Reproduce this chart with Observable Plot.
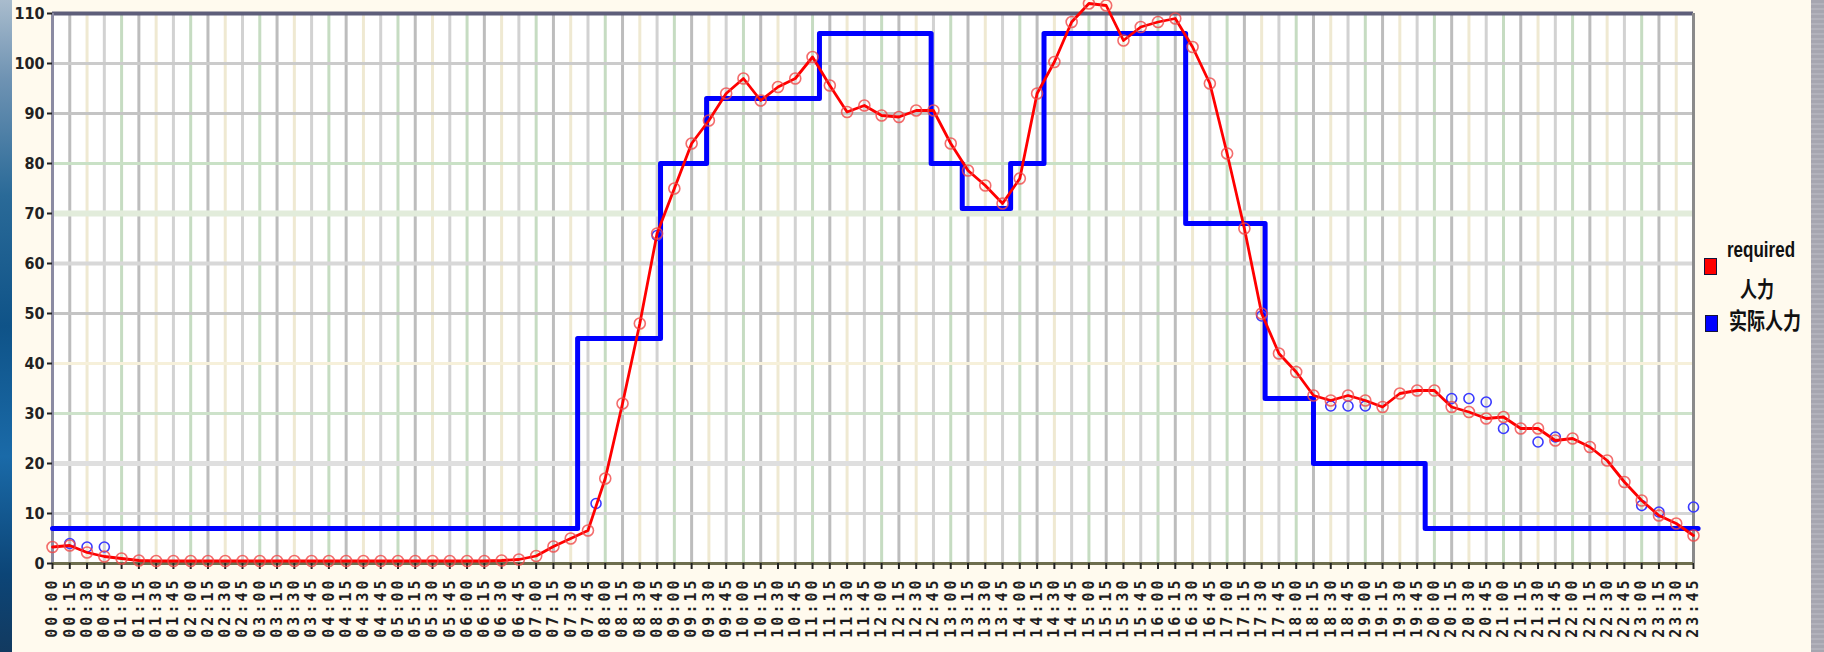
<!DOCTYPE html>
<html>
<head>
<meta charset="utf-8">
<script src="https://cdn.jsdelivr.net/npm/d3@7"></script>
<script src="https://cdn.jsdelivr.net/npm/@observablehq/plot@0.6"></script>
<style>
html, body { margin: 0; padding: 0; background: #fffaee; width: 1824px; height: 652px; overflow: hidden; }
#wrap { position: relative; width: 1824px; height: 652px; }
#leftstrip { position: absolute; left: 0; top: 0; width: 12px; height: 652px;
  background: linear-gradient(to bottom, #a9bccd 0%, #6f93b3 12%, #2a6a98 30%, #0f5388 50%, #1a6aa8 70%, #0c4577 88%, #123a60 100%); }
#rightstrip { position: absolute; left: 1811px; top: 0; width: 13px; height: 652px;
  background: repeating-linear-gradient(to bottom, #a6a6b0 0px, #a6a6b0 3px, #b2b2bb 3px, #b2b2bb 5px); }
#chart { position: absolute; left: 0; top: 0; }
.sw { position: absolute; width: 11px; height: 15px; border: 1.5px solid #14143a; }
.lab { position: absolute; color: #111; white-space: nowrap; transform: scale(1, 1.25); transform-origin: left top; }
svg g[aria-label="x-axis tick label"] { font-family: "DejaVu Sans Mono", monospace; font-weight: bold; font-size: 15px; letter-spacing: 3px; fill: #1e1e1e; }
svg g[aria-label="y-axis tick label"] { font-family: "DejaVu Sans Condensed", "DejaVu Sans", sans-serif; font-weight: bold; font-size: 16px; fill: #222; }
</style>
</head>
<body>
<div id="wrap">
  <div id="leftstrip"></div>
  <div id="chart"></div>
  <div id="rightstrip"></div>
  <div class="sw" style="left:1704px; top:258px; background:#ff0000;"></div>
  <div class="lab" style="left:1727px; top:238px; font: bold 17px 'Liberation Sans', sans-serif;">required</div>
  <div class="lab" style="left:1740px; top:272px; font: bold 17px 'Noto Sans CJK SC', sans-serif;">人力</div>
  <div class="sw" style="left:1705px; top:315px; background:#0000ff;"></div>
  <div class="lab" style="left:1729px; top:303px; font: bold 18px 'Noto Sans CJK SC', sans-serif;">实际人力</div>
</div>
<script>
// ---------- data ----------
const timeSlots = [
  "00:00","00:15","00:30","00:45","01:00","01:15","01:30","01:45",
  "02:00","02:15","02:30","02:45","03:00","03:15","03:30","03:45",
  "04:00","04:15","04:30","04:45","05:00","05:15","05:30","05:45",
  "06:00","06:15","06:30","06:45","07:00","07:15","07:30","07:45",
  "08:00","08:15","08:30","08:45","09:00","09:15","09:30","09:45",
  "10:00","10:15","10:30","10:45","11:00","11:15","11:30","11:45",
  "12:00","12:15","12:30","12:45","13:00","13:15","13:30","13:45",
  "14:00","14:15","14:30","14:45","15:00","15:15","15:30","15:45",
  "16:00","16:15","16:30","16:45","17:00","17:15","17:30","17:45",
  "18:00","18:15","18:30","18:45","19:00","19:15","19:30","19:45",
  "20:00","20:15","20:30","20:45","21:00","21:15","21:30","21:45",
  "22:00","22:15","22:30","22:45","23:00","23:15","23:30","23:45"
];

// "required" series, one value per 15-minute slot
const required = [
  3.3, 3.6, 2.2, 1.4, 1.0, 0.6, 0.5, 0.5,
  0.5, 0.5, 0.5, 0.5, 0.5, 0.5, 0.5, 0.5,
  0.5, 0.5, 0.5, 0.5, 0.5, 0.5, 0.5, 0.5,
  0.5, 0.5, 0.6, 0.8, 1.5, 3.4, 5.0, 6.6,
  17, 32, 48, 66, 75, 84, 88.6, 94,
  97, 92.6, 95.3, 97, 101.3, 95.6, 90.3, 91.6,
  89.6, 89.3, 90.6, 90.6, 84, 78.6, 75.6, 72,
  77, 94, 100.3, 108.3, 112, 111.6, 104.6, 107.3,
  108.3, 109, 103.3, 96, 82, 67, 50, 42,
  38.3, 33.6, 32.6, 33.6, 32.6, 31.3, 34, 34.6,
  34.6, 31.3, 30.3, 29, 29.3, 27, 27, 24.6,
  25, 23.3, 20.6, 16.3, 12.6, 9.6, 8, 5.6
];

// "实际人力" staffing schedule: change times and levels
const actualStepTimes  = ["00:00","07:36","08:48","09:28","11:06","12:43","13:10","13:52","14:21","16:24","17:33","18:15","19:52","23:49"];
const actualStepValues = [7, 45, 80, 93, 106, 80, 71, 80, 106, 68, 33, 20, 7, 7];

// "实际人力" sample markers visible on the chart
const actualMarkerTimes  = ["00:15","00:30","00:45","07:52","08:45","17:30","18:30","18:45","19:00","20:15","20:30","20:45","21:00","21:30","21:45","23:00","23:15","23:45"];
const actualMarkerValues = [4, 3.3, 3.3, 12, 65.6, 49.5, 31.5, 31.5, 31.5, 33, 33, 32.3, 27, 24.3, 25.3, 11.6, 10.3, 11.3];

const yTicks = [0, 10, 20, 30, 40, 50, 60, 70, 80, 90, 100, 110];

// ---------- styles ----------
const vGridColors = ["#c6dcc2", "#bdbdbd", "#efe9d2", "#d2d2d2"];
const hGridColors = ["#d6d6d6", "#dfdfdf", "#cde2ca", "#f6f0da", "#c4c4c4", "#d8d8d8", "#e2ecdb", "#c9e1c6", "#c4c4c4", "#cbcbcb"];
const hGridWidths = [3, 5, 3, 3, 3, 4, 6, 3, 3, 3];

// ---------- build ----------
const toMin = s => Number(s.slice(0, 2)) * 60 + Number(s.slice(3, 5));
const tickMins = timeSlots.map(toMin);
const labelOf = new Map(timeSlots.map(t => [toMin(t), t]));
const reqData = timeSlots.map((t, i) => ({m: toMin(t), v: required[i]}));
const stepData = actualStepTimes.map((t, i) => ({m: toMin(t), v: actualStepValues[i]}));
const markData = actualMarkerTimes.map((t, i) => ({m: toMin(t), v: actualMarkerValues[i]}));
const vGrid = tickMins.slice(1).map((m, i) => ({m, c: vGridColors[(i + 1) % 4]}));
const hGrid = yTicks.slice(1, -1).map((y, i) => ({y, c: hGridColors[i], w: hGridWidths[i]}));

const chart = Plot.plot({
  width: 1824,
  height: 652,
  marginLeft: 52,
  marginRight: 131,
  marginTop: 13,
  marginBottom: 89,
  style: {background: "transparent", overflow: "visible"},
  x: {type: "linear", domain: [0, 1425], axis: null, label: null},
  y: {domain: [0, 110], axis: null, label: null},
  color: {type: "identity"},
  marks: [
    Plot.rect([0], {x1: 0, x2: 1425, y1: 0, y2: 110, fill: "white"}),
    Plot.ruleX(vGrid, {x: "m", stroke: "c", strokeWidth: 3}),
    Plot.ruleY(hGrid, {y: "y", stroke: "c", strokeWidth: "w"}),
    Plot.ruleY([110], {stroke: "#5e5e7a", strokeWidth: 4}),
    Plot.ruleX([1425], {stroke: "#8a8a8a", strokeWidth: 3}),
    Plot.ruleX([0], {stroke: "#8b8ba3", strokeWidth: 3}),
    Plot.ruleY([0], {stroke: "#6e6e4e", strokeWidth: 3}),
    Plot.axisY(yTicks, {anchor: "left", label: null, tickSize: 5, tickPadding: 3, stroke: "#222", strokeWidth: 2}),
    Plot.axisX(tickMins, {anchor: "bottom", label: null, tickSize: 6, tickPadding: 8, tickRotate: -90, stroke: "#222", strokeWidth: 2, tickFormat: d => labelOf.get(d)}),
    Plot.line(stepData, {x: "m", y: "v", curve: "step-after", stroke: "#0000ff", strokeWidth: 5}),
    Plot.dot(markData, {x: "m", y: "v", r: 5, stroke: "#3a3aff", strokeWidth: 1.6, fill: "none"}),
    Plot.line(reqData, {x: "m", y: "v", stroke: "#ff0000", strokeWidth: 2.8}),
    Plot.dot(reqData, {x: "m", y: "v", r: 5.5, stroke: "#f04848", strokeWidth: 1.6, strokeOpacity: 0.8, fill: "none"})
  ]
});
document.getElementById("chart").appendChild(chart);
</script>
</body>
</html>
